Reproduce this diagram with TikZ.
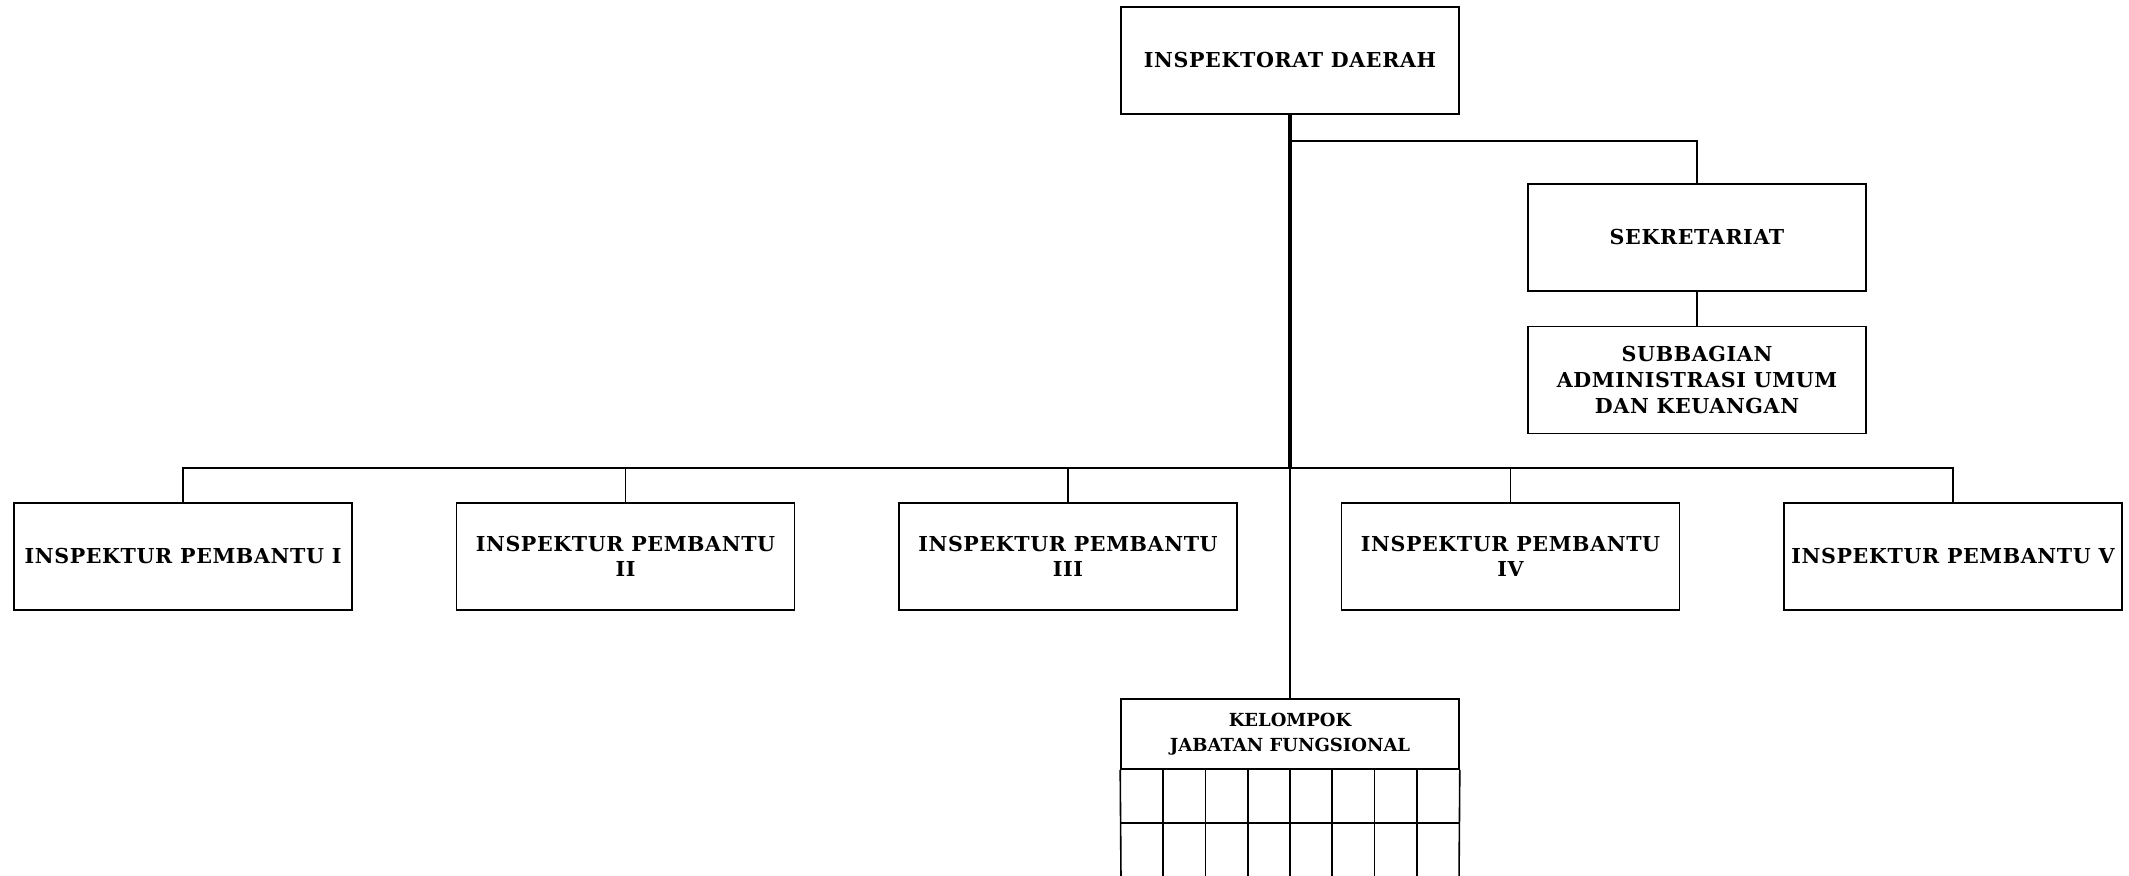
\documentclass[tikz,border=0pt]{standalone}
\usepackage{fontspec}
\setmainfont{DejaVu Serif}
\newfontfamily\boxfont[LetterSpace=3]{DejaVu Serif}
\begin{document}
\begin{tikzpicture}[x=0.5pt,y=-0.5pt,
  box/.style={draw,line width=0.8pt,minimum width=169pt,minimum height=53.5pt,inner sep=0pt,
    align=center,font=\boxfont\bfseries\fontsize{10.3}{12.8}\selectfont},
  thin/.style={line width=0.8pt},
  thickln/.style={line width=1.6pt}]
\useasboundingbox (0,0) rectangle (2129,876);
\node[box] (top) at (1290,60.5) {INSPEKTORAT DAERAH};
\node[box] (sek) at (1697,237.5) {SEKRETARIAT};
\node[box] (sub) at (1697,380) {SUBBAGIAN\\ADMINISTRASI UMUM\\DAN KEUANGAN};
\node[box] (p1) at (183,556.5) {INSPEKTUR PEMBANTU I};
\node[box] (p2) at (625.5,556.5) {INSPEKTUR PEMBANTU\\II};
\node[box] (p3) at (1068,556.5) {INSPEKTUR PEMBANTU\\III};
\node[box] (p4) at (1510.5,556.5) {INSPEKTUR PEMBANTU\\IV};
\node[box] (p5) at (1953,556.5) {INSPEKTUR PEMBANTU V};
\node[box,minimum height=35pt,font=\bfseries\fontsize{9}{12.5}\selectfont] (kel) at (1290,734) {KELOMPOK\\JABATAN FUNGSIONAL};
% grid under kelompok
\draw[thin] (kel.south west) -- (1121,880);
\draw[thin] (kel.south east) -- (1459,880);
\draw[thin] (1121,823) -- (1459,823);
\foreach \i in {1,...,7} {\draw[thin] (1121+\i*42.25,769) -- (1121+\i*42.25,880);}
% connectors
\coordinate (hb) at (1290,468);
\coordinate (sb) at (1290,141);
\draw[thickln] (top.south) -- (hb);
\draw[thin] (hb) -- (kel.north);
\draw[thin] (sb) -| (sek.north);
\draw[thin] (sek.south) -- (sub.north);
\draw[thin] (p1.north) |- (hb);
\draw[thin] (p5.north) |- (hb);
\foreach \p in {p2,p3,p4} {\draw[thin] (\p.north) -- (\p.north |- hb);}
\end{tikzpicture}
\end{document}
